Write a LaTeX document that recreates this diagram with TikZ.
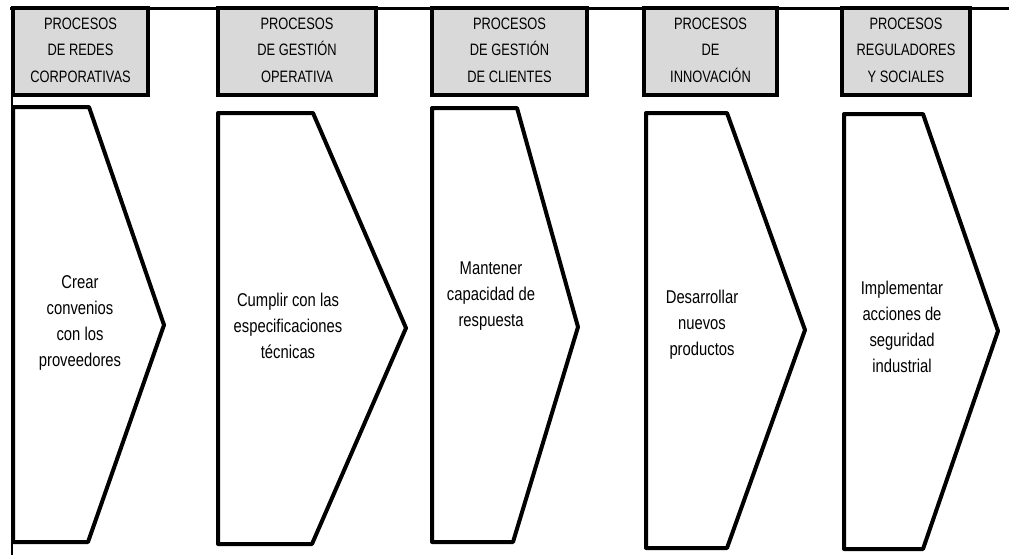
\documentclass[tikz,border=0pt]{standalone}
\usepackage{fontspec}
\setmainfont{Liberation Sans}
\newfontfamily\narrowfont[FakeStretch=0.78]{Liberation Sans}
\newfontfamily\bodyfont[FakeStretch=0.80]{Liberation Sans}
\begin{document}
\begin{tikzpicture}[x=1pt,y=-1pt,
  hdr/.style={draw=black,line width=4pt,fill=hdrgray},
  arrowshape/.style={draw=black,line width=4pt,line join=round,fill=white},
  hdrtext/.style={font=\narrowfont\fontsize{16.5}{26.5}\selectfont,align=center,inner sep=0pt},
  bodytext/.style={font=\bodyfont\fontsize{18.5}{26}\selectfont,align=center,inner sep=0pt}]
\definecolor{hdrgray}{RGB}{217,217,217}
\useasboundingbox (0,0) rectangle (1009,555);
% frame
\draw[line width=3pt] (10,8) -- (1009,8);
\draw[line width=2pt] (12,8) -- (12,555);
% headers
\draw[hdr] (13,8) rectangle (148,95);
\draw[hdr] (218,8) rectangle (376,95);
\draw[hdr] (432,8) rectangle (587,95);
\draw[hdr] (644,8) rectangle (777,95);
\draw[hdr] (842,8) rectangle (970,95);
\node[hdrtext] (h1) at (80.5,50) {PROCESOS\\DE REDES\\CORPORATIVAS};
\node[hdrtext] (h2) at (297,50) {PROCESOS\\DE GESTIÓN\\OPERATIVA};
\node[hdrtext] (h3) at (509.5,50) {PROCESOS\\DE GESTIÓN\\DE CLIENTES};
\node[hdrtext] (h4) at (710.5,50) {PROCESOS\\DE\\INNOVACIÓN};
\node[hdrtext] (h5) at (906,50) {PROCESOS\\REGULADORES\\Y SOCIALES};
% chevrons
\draw[arrowshape] (13,107) -- (89,107) -- (164,325) -- (88,542) -- (13,542) -- cycle;
\draw[arrowshape] (218,113) -- (313,113) -- (406,328) -- (312,544) -- (218,544) -- cycle;
\draw[arrowshape] (432,108) -- (517,108) -- (578,327) -- (513,542) -- (432,542) -- cycle;
\draw[arrowshape] (646,113) -- (727,113) -- (805,330) -- (727,548) -- (646,548) -- cycle;
\draw[arrowshape] (844,114) -- (923,114) -- (998,331) -- (923,549) -- (844,549) -- cycle;
% texts
\node[bodytext] (t1) at (80,323) {Crear\\convenios\\con los\\proveedores};
\node[bodytext] (t2) at (288,326) {Cumplir con las\\especificaciones\\técnicas};
\node[bodytext] (t3) at (491,296) {Mantener\\capacidad de\\respuesta};
\node[bodytext] (t4) at (702,325) {Desarrollar\\nuevos\\productos};
\node[bodytext] (t5) at (902,327) {Implementar\\acciones de\\seguridad\\industrial};
\end{tikzpicture}
\end{document}
